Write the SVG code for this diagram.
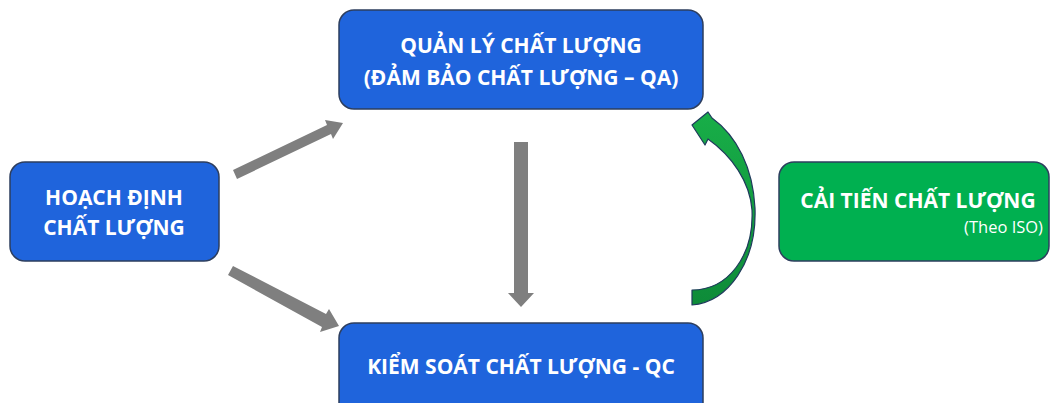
<svg xmlns="http://www.w3.org/2000/svg" width="1051" height="403" viewBox="0 0 1051 403">
<defs>
<linearGradient id="gg" x1="0" y1="0" x2="0" y2="1">
<stop offset="0" stop-color="#18AE48"/>
<stop offset="1" stop-color="#0E8B39"/>
</linearGradient>
</defs>
<style>
.box{fill:#1F64DC;stroke:#2D3E5E;stroke-width:1.5}
.gbox{fill:#00B050;stroke:#2D3E5E;stroke-width:1.5}
.t{font-family:"Open Sans","Noto Sans",sans-serif;font-weight:700;font-size:21px;fill:#FFFFFF;text-anchor:middle}
.s{font-family:"Open Sans","Noto Sans",sans-serif;font-size:16.5px;fill:#FFFFFF;text-anchor:end}
.ga{fill:#7F7F7F}
.ca{fill:url(#gg);stroke:#1F3A5C;stroke-width:1.2;stroke-linejoin:round}
</style>
<rect width="1051" height="403" fill="#FFFFFF"/>
<g id="connectors">
<polygon class="ga" points="233,170 327,125 325,120 343,123 333,139 331,134 237,179"/>
<polygon class="ga" points="233,266 326,314 329,309 339,326 320,332 322,327 228,275"/>
<polygon class="ga" points="514,142 528,142 528,293 534,293 521,307 508,293 514,293"/>
<path class="ca" d="M692,305 C728,302 757,262 755,208 C753,168 737,136 712,118 L708,112 L692,125 L705,145 L708,139 C732,156 750,182 752,210 C754,256 728,290 692,290 Z"/>
</g>
<g id="node-qa">
<rect class="box" x="339" y="10" width="364" height="99" rx="15"/>
<text class="t" x="521" y="53">QUẢN LÝ CHẤT LƯỢNG</text>
<text class="t" x="521" y="85">(ĐẢM BẢO CHẤT LƯỢNG – QA)</text>
</g>
<g id="node-plan">
<rect class="box" x="10" y="162" width="209" height="99" rx="15"/>
<text class="t" x="114" y="205">HOẠCH ĐỊNH</text>
<text class="t" x="114" y="235">CHẤT LƯỢNG</text>
</g>
<g id="node-qc">
<rect class="box" x="339" y="323" width="364" height="99" rx="15"/>
<text class="t" x="521" y="374">KIỂM SOÁT CHẤT LƯỢNG - QC</text>
</g>
<g id="node-improve">
<rect class="gbox" x="779" y="162" width="270" height="99" rx="15"/>
<text class="t" x="918" y="208">CẢI TIẾN CHẤT LƯỢNG</text>
<text class="s" x="1043" y="233">(Theo ISO)</text>
</g>
</svg>
